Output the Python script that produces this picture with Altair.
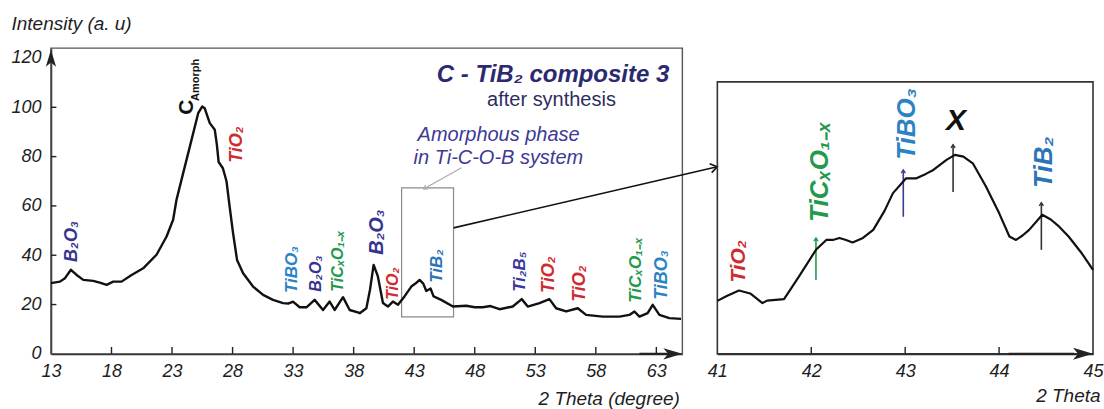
import altair as alt
import pandas as pd

FONT = "Liberation Sans"
INK = "#1e1e1e"

# ---- XRD pattern, 2θ (degree) vs intensity (a. u) ----
theta_main = [13.0, 13.74, 14.16, 14.65, 15.12, 15.67, 16.49, 17.1, 17.6, 18.14, 18.83,
              19.66, 20.62, 21.72, 22.55, 23.09, 23.37, 23.92, 24.61, 25.16, 25.49, 25.7,
              26.12, 26.53, 26.7, 26.85, 27.2, 27.5, 27.75, 28.04, 28.37, 28.87, 29.69,
              30.52, 31.34, 32.17, 32.6, 32.99, 33.54, 34.1, 34.78, 35.47, 36.02, 36.43,
              37.12, 37.67, 38.35, 38.5, 39.05, 39.35, 39.65, 40.0, 40.42, 40.83, 41.24,
              41.66, 42.2, 42.76, 43.1, 43.45, 43.75, 44.0, 44.35, 44.6, 45.23, 46.2,
              47.3, 48.0, 48.67, 49.3, 50.05, 51.14, 51.88, 52.38, 53.35, 54.17, 54.72,
              55.55, 56.51, 57.2, 58.57, 59.95, 60.77, 61.19, 61.6, 62.28, 62.7, 63.25,
              64.07, 65.04]
intensity_main = [28.7, 29.3, 30.7, 34.1, 32.0, 30.0, 29.6, 28.8, 28.0, 29.3, 29.3,
                  32.0, 34.7, 40.2, 47.6, 54.4, 62.5, 73.3, 86.8, 97.6, 100.3, 99.6,
                  93.6, 90.9, 85.0, 77.8, 75.3, 70.0, 60.0, 49.0, 38.1, 32.7, 27.3,
                  23.9, 21.9, 20.6, 20.4, 21.2, 18.9, 18.9, 21.9, 17.8, 21.2, 17.8,
                  23.0, 17.8, 16.8, 16.5, 18.5, 26.0, 36.1, 31.4, 20.6, 19.2, 21.2,
                  19.9, 23.3, 27.3, 28.5, 30.0, 28.5, 25.5, 26.5, 23.3, 21.9, 19.2,
                  19.5, 18.9, 18.9, 19.4, 18.1, 19.2, 22.2, 19.2, 20.6, 22.2, 18.5,
                  17.2, 18.5, 15.8, 15.1, 15.1, 15.8, 17.2, 15.1, 16.5, 19.9, 15.8,
                  14.5, 14.2]

# ---- enlarged 41–45° window ----
theta_zoom = [41.0, 41.1, 41.23, 41.35, 41.48, 41.53, 41.71, 41.87, 42.05, 42.16, 42.23,
              42.3, 42.37, 42.44, 42.55, 42.66, 42.78, 42.87, 43.01, 43.12, 43.22, 43.3,
              43.44, 43.53, 43.62, 43.72, 43.86, 44.0, 44.11, 44.18, 44.25, 44.32, 44.46,
              44.55, 44.64, 44.74, 44.88, 45.0]
intensity_zoom = [21.5, 23.5, 25.7, 24.5, 20.6, 21.6, 22.2, 31.4, 42.2, 46.2, 46.2,
                  47.0, 46.2, 45.2, 47.0, 50.3, 58.0, 65.2, 71.2, 71.2, 73.0, 74.6,
                  78.7, 80.7, 80.0, 77.3, 67.9, 57.1, 47.6, 46.2, 48.0, 50.3, 56.4,
                  54.5, 51.6, 47.6, 40.8, 34.1]

# ---- phase labels ----
PHASE_COLORS = {
    "B₂O₃": "#35348f",
    "TiO₂": "#cf2a2e",
    "TiBO₃": "#2c83c4",
    "TiCₓO₁₋ₓ": "#23994b",
    "TiB₂": "#2c74b8",
    "Ti₂B₅": "#3b399c",
}
main_phase = ["B₂O₃", "TiO₂", "TiBO₃", "B₂O₃", "TiCₓO₁₋ₓ", "B₂O₃", "TiO₂", "TiB₂",
              "Ti₂B₅", "TiO₂", "TiO₂", "TiCₓO₁₋ₓ", "TiBO₃"]
main_phase_theta = [14.73, 28.35, 32.88, 34.86, 36.68, 39.9, 41.22, 44.85, 51.7, 54.17,
                    56.73, 61.35, 63.5]
main_phase_base = [37.3, 77.5, 24.7, 25.2, 25.2, 40.2, 21.9, 28.8, 25.2, 24.7, 21.1,
                   20.7, 21.9]
main_phase_size = [18, 18, 17, 16, 16, 20, 16, 17, 17, 18, 18, 17, 18]

zoom_phase = ["TiO₂", "TiCₓO₁₋ₓ", "TiBO₃", "TiB₂"]
zoom_phase_theta = [41.23, 42.09, 43.02, 44.48]
zoom_phase_base = [28.8, 53.5, 78.7, 67.3]
zoom_phase_size = [21, 26, 26, 26]

marker_theta = [42.05, 42.98, 43.51, 44.45]
marker_from = [30.0, 55.6, 65.7, 42.2]
marker_to = [47.0, 74.6, 84.8, 61.3]
marker_color = ["#23994b", "#3a3a92", "#333333", "#333333"]

main_ticks_x = [18, 23, 28, 33, 38, 43, 48, 53, 58, 63]
main_ticks_y = [20, 40, 60, 80, 100]
zoom_ticks_x = [42, 43, 44]

X_MAIN = [13, 65.15]
X_ZOOM = [41, 45]
Y_DOM = [0, 124]

HEAD = "M0,0L0.6,2L0,1.5L-0.6,2Z"        # solid arrow head, tip at origin
CHEVRON = "M-0.6,0.9L0,0L0.6,0.9"         # open arrow head, tip at origin

axis_common = dict(grid=False, ticks=False, domainColor="#222", domainWidth=1.6,
                   labelFont=FONT, labelFontSize=18, labelFontStyle="italic",
                   labelColor=INK, titleFont=FONT, titleFontSize=19,
                   titleFontStyle="italic", titleFontWeight="normal", titleColor=INK)

ax_main_x = alt.Axis(values=[13, 18, 23, 28, 33, 38, 43, 48, 53, 58, 63],
                     title="2 Theta (degree)", labelPadding=9, labelFlush=False,
                     labelOverlap=False, titleAlign="right", titleX=629, titleY=45,
                     titleBaseline="middle", **axis_common)
ax_main_y = alt.Axis(values=[0, 20, 40, 60, 80, 100, 120], title="Intensity (a. u)",
                     labelPadding=10, titleAngle=0, titleAlign="left", titleX=-40,
                     titleY=-25, titleBaseline="middle", **axis_common)
ax_zoom_x = alt.Axis(values=[41, 42, 43, 44, 45], title="2 Theta", labelPadding=9,
                     labelFlush=False, labelOverlap=False, titleAlign="right",
                     titleX=383, titleY=42, titleBaseline="middle", **axis_common)


def xm(f):
    return alt.X(f"{f}:Q", scale=alt.Scale(domain=X_MAIN, nice=False, zero=False), axis=ax_main_x)


def ym(f):
    return alt.Y(f"{f}:Q", scale=alt.Scale(domain=Y_DOM, nice=False, zero=False), axis=ax_main_y)


def xz(f):
    return alt.X(f"{f}:Q", scale=alt.Scale(domain=X_ZOOM, nice=False, zero=False), axis=ax_zoom_x)


def yz(f):
    return alt.Y(f"{f}:Q", scale=alt.Scale(domain=Y_DOM, nice=False, zero=False), axis=None)


def note(x, y, text):
    return pd.DataFrame({"x": [x], "y": [y], "t": [text]})


# ================= main pattern panel =================
main_df = pd.DataFrame({"x": theta_main, "y": intensity_main})
frame_m = alt.Chart(pd.DataFrame({"x": [13], "x2": [65.15], "y": [0], "y2": [124]})).mark_rect(
    fillOpacity=0, stroke="#555", strokeWidth=1.4).encode(x=xm("x"), x2="x2", y=ym("y"), y2="y2")

curve_m = alt.Chart(main_df).mark_line(color="#111", strokeWidth=2.4, strokeJoin="round").encode(
    x=xm("x"), y=ym("y"))

tick_mx = alt.Chart(pd.DataFrame({"x": main_ticks_x, "y": 0, "y2": 2.8})).mark_rule(
    color="#222", strokeWidth=1.4).encode(x=xm("x"), y=ym("y"), y2="y2")
tick_my = alt.Chart(pd.DataFrame({"y": main_ticks_y, "x": 13, "x2": 13.45})).mark_rule(
    color="#222", strokeWidth=1.4).encode(x=xm("x"), x2="x2", y=ym("y"))

# thicker run of the x axis leading into its arrow head
x_run = alt.Chart(pd.DataFrame({"x": [61.6], "x2": [64.5], "y": [0]})).mark_rule(
    color="#222", strokeWidth=2.4).encode(x=xm("x"), x2="x2", y=ym("y"))

box = alt.Chart(pd.DataFrame({"x": [41.96], "x2": [46.25], "y": [15.0], "y2": [67.3]})).mark_rect(
    fillOpacity=0, stroke="#8a8a8a", strokeWidth=1.2).encode(x=xm("x"), x2="x2", y=ym("y"), y2="y2")

link = alt.Chart(pd.DataFrame({"x": [46.25], "x2": [68.03], "y": [51.1], "y2": [75.9]})).mark_rule(
    color="#111", strokeWidth=1.6, clip=False).encode(x=xm("x"), x2="x2", y=ym("y"), y2="y2")
link_head = alt.Chart(pd.DataFrame({"x": [68.03], "y": [75.9]})).mark_point(
    shape=CHEVRON, size=225, angle=77, filled=False, color="#111", strokeWidth=1.6,
    opacity=1, clip=False).encode(x=xm("x"), y=ym("y"))

pointer = alt.Chart(pd.DataFrame({"x": [46.91], "x2": [43.85], "y": [75.5], "y2": [67.1]})).mark_rule(
    color="#a8a8b8", strokeWidth=1.2).encode(x=xm("x"), x2="x2", y=ym("y"), y2="y2")
pointer_head = alt.Chart(pd.DataFrame({"x": [43.78], "y": [66.9]})).mark_point(
    shape=CHEVRON, size=64, angle=241, filled=False, color="#a8a8b8", strokeWidth=1.2,
    opacity=1).encode(x=xm("x"), y=ym("y"))

y_head = alt.Chart(pd.DataFrame({"x": [13], "y": [123.3]})).mark_point(
    shape=HEAD, size=289, angle=0, filled=True, color="#222", opacity=1).encode(x=xm("x"), y=ym("y"))
x_head = alt.Chart(pd.DataFrame({"x": [65.15], "y": [0]})).mark_point(
    shape=HEAD, size=361, angle=90, filled=True, color="#222", opacity=1).encode(x=xm("x"), y=ym("y"))

labels_m = alt.Chart(pd.DataFrame({
    "x": main_phase_theta, "y": main_phase_base, "t": main_phase, "s": main_phase_size,
    "c": [PHASE_COLORS[p] for p in main_phase]})).mark_text(
    angle=270, align="left", baseline="middle", font=FONT, fontStyle="italic",
    fontWeight="bold").encode(x=xm("x"), y=ym("y"), text="t:N",
                               size=alt.Size("s:Q", scale=None),
                               color=alt.Color("c:N", scale=None))

c_big = alt.Chart(note(24.25, 97.0, "C")).mark_text(
    angle=270, align="left", baseline="middle", font=FONT, fontWeight="bold", fontSize=21,
    color="#111").encode(x=xm("x"), y=ym("y"), text="t:N")
c_sub = alt.Chart(note(24.95, 102.6, "Amorph")).mark_text(
    angle=270, align="left", baseline="middle", font=FONT, fontWeight="bold", fontSize=11,
    color="#111").encode(x=xm("x"), y=ym("y"), text="t:N")

title_main = alt.Chart(note(64.07, 113.2, "C - TiB₂ composite 3")).mark_text(
    align="right", baseline="middle", font=FONT, fontStyle="italic", fontWeight="bold",
    fontSize=24, color="#2b2a70").encode(x=xm("x"), y=ym("y"), text="t:N")
title_sub = alt.Chart(note(54.34, 102.8, "after synthesis")).mark_text(
    align="center", baseline="middle", font=FONT, fontSize=20, color="#2d2d5e").encode(
    x=xm("x"), y=ym("y"), text="t:N")
amorph = alt.Chart(pd.DataFrame({"x": [43.28, 42.95], "y": [88.8, 79.5],
                                 "t": ["Amorphous phase", "in Ti-C-O-B system"]})).mark_text(
    align="left", baseline="middle", font=FONT, fontStyle="italic", fontSize=20,
    color="#3d3a95").encode(x=xm("x"), y=ym("y"), text="t:N")

main_panel = alt.layer(
    frame_m, box, pointer, pointer_head, link, link_head, tick_mx, tick_my, x_run, curve_m,
    labels_m, c_big, c_sub, title_main, title_sub, amorph, y_head, x_head
).properties(width=632, height=306)

# ================= enlarged window panel =================
zoom_df = pd.DataFrame({"x": theta_zoom, "y": intensity_zoom})
frame_z = alt.Chart(pd.DataFrame({"x": [41], "x2": [45], "y": [0], "y2": [110.3]})).mark_rect(
    fillOpacity=0, stroke="#333", strokeWidth=1.6).encode(x=xz("x"), x2="x2", y=yz("y"), y2="y2")
curve_z = alt.Chart(zoom_df).mark_line(color="#111", strokeWidth=2.2, strokeJoin="round").encode(
    x=xz("x"), y=yz("y"))
tick_zx = alt.Chart(pd.DataFrame({"x": zoom_ticks_x, "y": 0, "y2": 2.8})).mark_rule(
    color="#222", strokeWidth=1.4).encode(x=xz("x"), y=yz("y"), y2="y2")
zx_run = alt.Chart(pd.DataFrame({"x": [44.1], "x2": [44.8], "y": [0]})).mark_rule(
    color="#222", strokeWidth=2.4).encode(x=xz("x"), x2="x2", y=yz("y"))
zx_head = alt.Chart(pd.DataFrame({"x": [45], "y": [0]})).mark_point(
    shape=HEAD, size=400, angle=90, filled=True, color="#222", opacity=1).encode(x=xz("x"), y=yz("y"))

mk = pd.DataFrame({"x": marker_theta, "y": marker_from, "y2": marker_to, "c": marker_color})
markers = alt.Chart(mk).mark_rule(strokeWidth=1.6).encode(
    x=xz("x"), y=yz("y"), y2="y2", color=alt.Color("c:N", scale=None))
marker_heads = alt.Chart(mk).mark_point(
    shape=CHEVRON, size=49, filled=False, strokeWidth=1.4, opacity=1).encode(
    x=xz("x"), y=yz("y2"), color=alt.Color("c:N", scale=None))

labels_z = alt.Chart(pd.DataFrame({
    "x": zoom_phase_theta, "y": zoom_phase_base, "t": zoom_phase, "s": zoom_phase_size,
    "c": [PHASE_COLORS[p] for p in zoom_phase]})).mark_text(
    angle=270, align="left", baseline="middle", font=FONT, fontStyle="italic",
    fontWeight="bold").encode(x=xz("x"), y=yz("y"), text="t:N",
                               size=alt.Size("s:Q", scale=None),
                               color=alt.Color("c:N", scale=None))
x_mark = alt.Chart(note(43.54, 94.5, "X")).mark_text(
    align="center", baseline="middle", font=FONT, fontStyle="italic", fontWeight="bold",
    fontSize=30, color="#111").encode(x=xz("x"), y=yz("y"), text="t:N")

zoom_panel = alt.layer(
    frame_z, tick_zx, zx_run, markers, marker_heads, curve_z, labels_z, x_mark, zx_head
).properties(width=376, height=306)

chart = alt.hconcat(main_panel, zoom_panel, spacing=35, bounds="flush").properties(
    padding={"left": 10, "top": 14, "right": 0, "bottom": 0}, background="white"
).configure_view(stroke=None)

chart.save("out.html", embed_options={"renderer": "svg", "actions": False})
